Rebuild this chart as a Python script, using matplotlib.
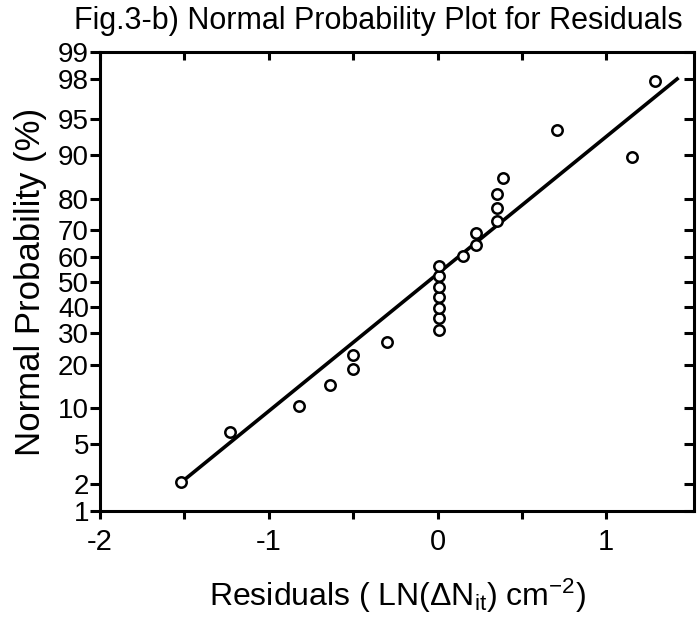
import numpy as np
import matplotlib
matplotlib.use('Agg')
import matplotlib.pyplot as plt
from statistics import NormalDist

# residuals and their plotting positions (%)
resid = [-1.52, -1.23, -0.82, -0.64, -0.50, -0.50, -0.30,
         0.01, 0.01, 0.01, 0.01, 0.01, 0.01, 0.01,
         0.15, 0.23, 0.23, 0.35, 0.35, 0.35, 0.39,
         1.15, 0.71, 1.29]
prob = [2.1, 6.3, 10.4, 14.6, 18.8, 22.9, 27.1,
        31.3, 35.4, 39.6, 43.8, 47.9, 52.1, 56.3,
        60.4, 64.6, 68.8, 72.9, 77.1, 81.3, 85.4,
        89.6, 93.8, 97.9]

# fitted straight line (end points)
fit_x = [-1.49, 1.42]
fit_p = [2.3, 98.0]

ytick_vals = [1, 2, 5, 10, 20, 30, 40, 50, 60, 70, 80, 90, 95, 98, 99]
xtick_vals = [-2, -1, 0, 1]
xminor_vals = [-1.5, -0.5, 0.5]

nd = NormalDist()


def fwd(p):
    p = np.clip(np.asarray(p, dtype=float) / 100.0, 1e-9, 1 - 1e-9)
    return np.vectorize(nd.inv_cdf, otypes=[float])(p)


def inv(z):
    z = np.asarray(z, dtype=float)
    return np.vectorize(nd.cdf, otypes=[float])(z) * 100.0


plt.rcParams['font.family'] = ['Liberation Sans', 'DejaVu Sans']
plt.rcParams['mathtext.default'] = 'regular'

fig = plt.figure(figsize=(6.98, 6.18), dpi=100)
ax = fig.add_axes([0.1433, 0.1731, 0.851, 0.7427])

ax.set_yscale('function', functions=(fwd, inv))
ax.plot(fit_x, fit_p, color='black', lw=2.6, zorder=2)
ax.plot(resid, prob, linestyle='none', marker='o', markersize=7.5,
        markerfacecolor='white', markeredgecolor='black', markeredgewidth=1.8, zorder=3)

ax.set_xlim(-2, 1.52)
ax.set_ylim(1, 99)

ax.set_yticks(ytick_vals)
ax.set_yticklabels([str(v) for v in ytick_vals])
ax.yaxis.set_minor_locator(matplotlib.ticker.NullLocator())
ax.set_xticks(xtick_vals)
ax.set_xticklabels(['-2', '-1', '0', '1'])
ax.set_xticks(xminor_vals, minor=True)

for s in ax.spines.values():
    s.set_linewidth(2.2)

ax.tick_params(axis='y', which='major', direction='out', length=7, width=2.2,
               labelsize=20, pad=1, right=True, labelright=False)
ax.tick_params(axis='x', which='both', direction='out', length=6, width=2.2,
               labelsize=21, pad=6, top=True)

# right and top ticks point into the plot
for t in ax.yaxis.get_major_ticks():
    t.tick2line.set_marker(matplotlib.lines.TICKLEFT)
for t in ax.xaxis.get_major_ticks() + ax.xaxis.get_minor_ticks():
    t.tick2line.set_marker(matplotlib.lines.TICKDOWN)

ax.set_ylabel('Normal Probability (%)', fontsize=25, labelpad=8)
ax.set_xlabel(r'Residuals ( LN($\Delta$N$_{it}$) cm$^{-2}$)', fontsize=23, labelpad=15)

fig.text(0.542, 0.966, 'Fig.3-b) Normal Probability Plot for Residuals',
         ha='center', va='center', fontsize=22)

fig.savefig('out.png', dpi=100)
